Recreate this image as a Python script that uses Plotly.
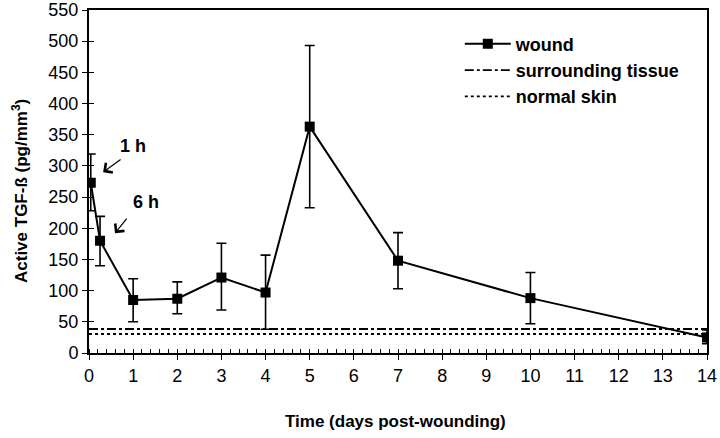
import plotly.graph_objects as go

# Data
days = [0.04, 0.25, 1, 2, 3, 4, 5, 7, 10, 14]
tgf = [273, 180, 85, 87, 121, 97, 363, 148, 88, 25]
err_plus = [46, 39, 34, 27, 55, 60, 130, 45, 41, 12]
err_minus = [45, 40, 35, 24, 52, 59, 130, 45, 41, 10]
surround_x = [0, 14]
surround_y = [38.5, 38.5]
normal_x = [0, 14]
normal_y = [30.5, 30.5]
x_ticks = list(range(0, 15))
y_ticks = list(range(0, 551, 50))

FONT = "Liberation Sans, Arial, sans-serif"

fig = go.Figure()
fig.add_trace(go.Scatter(
    x=days, y=tgf, mode="lines+markers", name="<b>wound</b>",
    line=dict(color="black", width=2),
    marker=dict(symbol="square", size=10, color="black"),
    error_y=dict(type="data", symmetric=False, array=err_plus, arrayminus=err_minus,
                 color="black", thickness=1.6, width=5),
))
fig.add_trace(go.Scatter(
    x=surround_x, y=surround_y, mode="lines", name="<b>surrounding tissue</b>",
    line=dict(color="black", width=1.8, dash="dashdot"),
))
fig.add_trace(go.Scatter(
    x=normal_x, y=normal_y, mode="lines", name="<b>normal skin</b>",
    line=dict(color="black", width=1.8, dash="dot"),
))
# invisible trace for inner ticks on y axis
fig.add_trace(go.Scatter(x=[0], y=[0], yaxis="y2", mode="markers",
                         marker=dict(opacity=0), showlegend=False, hoverinfo="skip"))

fig.update_layout(
    width=720, height=438,
    margin=dict(l=89, r=13, t=10, b=85),
    paper_bgcolor="white", plot_bgcolor="white",
    font=dict(family=FONT, color="black", size=18),
    showlegend=True,
    legend=dict(x=0.6, y=0.955, xanchor="left", yanchor="top",
                font=dict(family=FONT, size=18, color="black"),
                bgcolor="rgba(0,0,0,0)", tracegroupgap=0, itemwidth=46),
    xaxis=dict(range=[0, 14], tickvals=x_ticks, ticks="outside", ticklen=5,
               tickwidth=1.2, tickcolor="black",
               minor=dict(dtick=0.2, ticks="inside", ticklen=4, tickcolor="black", tickwidth=1),
               showline=True, linecolor="black", linewidth=2, mirror=True,
               showgrid=False, zeroline=False, automargin=False,
               tickfont=dict(size=18)),
    yaxis=dict(range=[0, 550], tickvals=y_ticks, ticks="outside", ticklen=5,
               tickwidth=1.2, tickcolor="black",
               showline=True, linecolor="black", linewidth=2, mirror=True,
               showgrid=False, zeroline=False, automargin=False,
               tickfont=dict(size=18)),
    yaxis2=dict(range=[0, 550], tickvals=y_ticks, ticks="inside", ticklen=5,
                tickwidth=1.2, tickcolor="black", overlaying="y", side="left",
                showticklabels=False, showgrid=False, zeroline=False, showline=False,
                automargin=False),
)

# axis titles
fig.add_annotation(x=(395 - 89) / 618, y=-(422 - 353) / 343, xref="paper", yref="paper",
                   text="<b>Time (days post-wounding)</b>", showarrow=False,
                   font=dict(size=17), xanchor="center", yanchor="middle")
fig.add_annotation(x=-(89 - 20) / 618, y=(353 - 191) / 343, xref="paper", yref="paper",
                   text="<b>Active TGF-ß (pg/mm<sup>3</sup>)</b>", showarrow=False, textangle=-90,
                   font=dict(size=17), xanchor="center", yanchor="middle")

fig.add_annotation(x=0.32, y=290, ax=0.75, ay=312, xref="x", yref="y", axref="x", ayref="y",
                   text="", showarrow=True, arrowhead=4, arrowsize=1.9, arrowwidth=1.2, arrowcolor="black")
fig.add_annotation(x=1.0, y=332, xref="x", yref="y", text="<b>1 h</b>", showarrow=False,
                   font=dict(size=18))
fig.add_annotation(x=0.59, y=192, ax=0.88, ay=218, xref="x", yref="y", axref="x", ayref="y",
                   text="", showarrow=True, arrowhead=4, arrowsize=1.9, arrowwidth=1.2, arrowcolor="black")
fig.add_annotation(x=1.29, y=242, xref="x", yref="y", text="<b>6 h</b>", showarrow=False,
                   font=dict(size=18))

fig.write_html("out.html", config={"displayModeBar": False},
               post_script="document.body.style.margin='0';")
